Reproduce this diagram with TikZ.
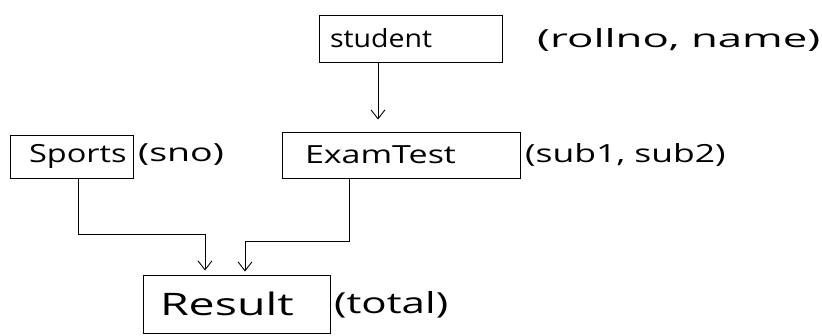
\documentclass[tikz,border=0pt]{standalone}
\usepackage{fontspec}
\usepackage{graphicx}
\setmainfont{Open Sans}
\usetikzlibrary{arrows.meta}
% stretch a word horizontally, as handwriting runs wide
\newcommand{\wideword}[2]{\scalebox{#1}[1]{#2}}
\begin{document}
\begin{tikzpicture}[x=1pt,y=-1pt,
  entity/.style={draw, line width=0.9pt, inner ysep=0pt,
    align=left, font=\fontsize{25}{28}\selectfont},
  attrs/.style={anchor=west, inner sep=0pt, font=\fontsize{25}{28}\selectfont},
  link/.style={line width=0.9pt, -{Straight Barb[length=9pt,width=14pt,line width=0.9pt]}}]
\useasboundingbox (0,0) rectangle (822,335);
% entity boxes
\node[entity, minimum width=183pt, minimum height=47pt, inner xsep=11pt, text width=161pt] (student) at (410.5,38.5) {\wideword{1.14}{student}};
\node[entity, minimum width=123pt, minimum height=43pt, inner xsep=19pt, text width=85pt] (sports) at (71.5,156.5) {\wideword{1.3}{Sports}};
\node[entity, minimum width=238pt, minimum height=46pt, inner xsep=23pt, text width=192pt] (exam) at (401,155) {\wideword{1.36}{ExamTest}};
\node[entity, minimum width=187pt, minimum height=58pt, inner xsep=17pt, text width=153pt, font=\fontsize{31}{34}\selectfont] (result) at (236.5,304) {\wideword{1.5}{Result}};
% attribute lists
\node[attrs] (studentattr) at (537,40) {\wideword{1.75}{(rollno, name)}};
\node[attrs] (sportsattr) at (138,155) {\wideword{1.5}{(sno)}};
\node[attrs] (examattr) at (525,155) {\wideword{1.42}{(sub1, sub2)}};
\node[attrs, font=\fontsize{29}{32}\selectfont] (resultattr) at (334,305) {\wideword{1.45}{(total)}};
% connectors
\draw[link, shorten >=12pt] ([xshift=-32.5pt]student.south) -- ([xshift=-32.5pt]student.south |- exam.north);
\draw[link, shorten >=4pt] ([xshift=6.5pt]sports.south) -- ++(0,56) -| ([xshift=-31.5pt]result.north);
\draw[link, shorten >=3pt] ([xshift=-52pt]exam.south) -- ++(0,63) -| ([xshift=8.5pt]result.north);
\end{tikzpicture}
\end{document}
